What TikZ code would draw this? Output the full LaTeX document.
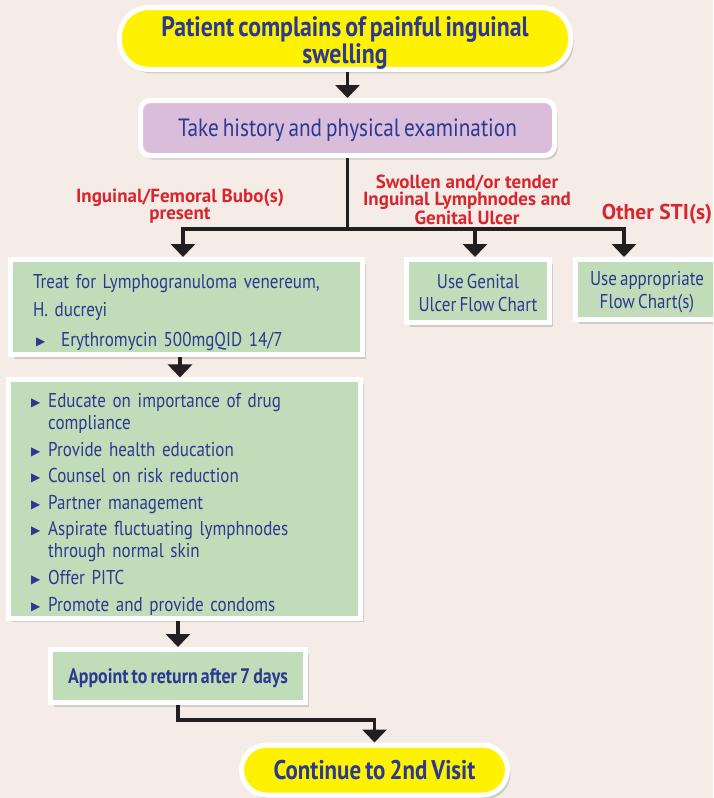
\documentclass[tikz,border=0pt]{standalone}
\usepackage{fontspec}
\usetikzlibrary{arrows.meta,shadows}
\newfontfamily\condfont[FakeStretch=0.85,WordSpace=0.7]{PT Sans}
\newfontfamily\lblfont{PT Sans}
\newfontfamily\symfont{DejaVu Sans}
\definecolor{bgcol}{HTML}{F5ECE7}
\definecolor{pillyellow}{HTML}{FFF200}
\definecolor{lilac}{HTML}{D9BDDB}
\definecolor{mint}{HTML}{C1DCB8}
\definecolor{navy}{HTML}{2B3990}
\definecolor{alert}{HTML}{D7262E}
\definecolor{ink}{HTML}{231F20}
\newcommand{\pointer}{{\symfont\fontsize{12}{12}\selectfont\raisebox{1pt}{▶}}}
\tikzset{
  box/.style={draw=white, line width=5pt, text=navy, inner sep=0pt,
    drop shadow={shadow xshift=3pt, shadow yshift=-4pt, opacity=0.3}},
  pill/.style={box, fill=pillyellow, align=center,
    font=\condfont\bfseries\fontsize{28}{25}\selectfont},
  greenbox/.style={box, fill=mint, font=\condfont\fontsize{20}{23}\selectfont},
  lbl/.style={text=alert, align=center, font=\lblfont\bfseries\fontsize{19}{17.5}\selectfont},
  conn/.style={draw=ink, line width=3.5pt},
  arr/.style={conn, -{Triangle[width=24pt,length=13pt]}}
}
\begin{document}
\begin{tikzpicture}[x=1pt,y=-1pt]
\clip (0,0) rectangle (713,798);
\fill[bgcol] (0,0) rectangle (713,798);

% boxes
\node[pill, minimum width=451pt, minimum height=58pt, rounded corners=29pt] (start) at (345,38.5)
  {\rule{0pt}{29pt}Patient complains of painful inguinal\\swelling};
\node[box, fill=lilac, rounded corners=10pt, minimum width=414pt, minimum height=55pt, text depth=0pt,
  font=\condfont\fontsize{25}{28}\selectfont] (hist) at (347.5,128)
  {Take history and physical examination};
\node[greenbox, minimum width=352pt, minimum height=95pt, text width=307pt, align=left] (treat) at (186.5,307)
  {\rule{0pt}{25pt}Treat for Lymphogranuloma venereum,\\[5pt]
   H. ducreyi\\[7pt]
   \hspace*{3pt}\pointer\hspace{16pt}Erythromycin 500mgQID 14/7};
\node[greenbox, minimum width=143pt, minimum height=63pt, align=center] (ulcer) at (478,291)
  {\rule{0pt}{19pt}Use Genital\\Ulcer Flow Chart};
\node[greenbox, minimum width=143pt, minimum height=60pt, align=center] (other) at (647,289.5)
  {\rule{0pt}{19pt}Use appropriate\\Flow Chart(s)};
\node[greenbox, minimum width=352pt, minimum height=235pt, text width=307pt, align=left,
  font=\condfont\fontsize{20}{22}\selectfont] (advice) at (184.5,499)
  {\begin{tabular}{@{}l@{\hspace{8pt}}l@{}}
   \rule{0pt}{28pt}\pointer & Educate on importance of drug\\
            & compliance\\[4.5pt]
   \pointer & Provide health education\\[4.5pt]
   \pointer & Counsel on risk reduction\\[4.5pt]
   \pointer & Partner management\\[4.5pt]
   \pointer & Aspirate fluctuating lymphnodes\\
            & through normal skin\\[4.5pt]
   \pointer & Offer PITC\\[5pt]
   \pointer & Promote and provide condoms
   \end{tabular}};
\node[greenbox, minimum width=255pt, minimum height=53pt, text depth=0pt,
  font=\condfont\bfseries\fontsize{21}{22}\selectfont] (appoint) at (178,676)
  {Appoint to return after 7 days};
\node[pill, minimum width=266pt, minimum height=50pt, rounded corners=25pt,
  font=\condfont\bfseries\fontsize{27}{27}\selectfont] (cont) at (374.5,770)
  {Continue to 2nd Visit};

% branch labels
\node[lbl] (bubolbl) at (180,206) {Inguinal/Femoral Bubo(s)\\present};
\node[lbl] (swollbl) at (467,199.5) {Swollen and/or tender\\Inguinal Lymphnodes and\\Genital Ulcer};
\node[lbl, font=\lblfont\bfseries\fontsize{21.5}{22}\selectfont] (stilbl) at (657,214.5) {Other STI(s)};

% connectors
\coordinate (fork) at (347.5,229);
\draw[arr] (hist.north |- start.south) -- (hist.north);
\draw[conn] (hist.south) -- (fork);
\draw[arr] (fork) -| ([xshift=-3.5pt]treat.north);
\draw[arr] (fork) -| ([xshift=-3pt]ulcer.north);
\draw[arr] (fork) -| ([xshift=-23pt]other.north);
\draw[arr] ([xshift=-6.5pt]treat.south) -- ([xshift=-6.5pt]treat.south |- advice.north);
\draw[arr] (advice.south -| appoint.north) -- (appoint.north);
\draw[arr] (appoint.south) -- ++(0,15) -| (cont.north);
\end{tikzpicture}
\end{document}
